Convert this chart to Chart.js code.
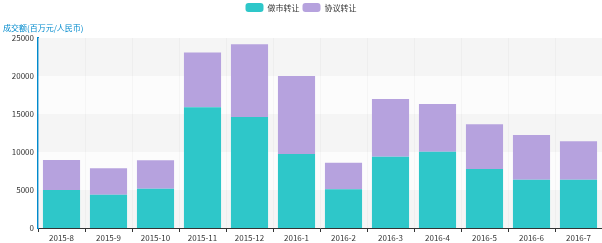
<!DOCTYPE html>
<html>
<head>
<meta charset="utf-8">
<script src="https://cdn.jsdelivr.net/npm/chart.js@4"></script>
<style>
  html, body { margin: 0; padding: 0; background: #fff; }
  #wrap { width: 602px; height: 243px; }
</style>
</head>
<body>
<div id="wrap"><canvas id="chart"></canvas></div>
<script>
// 数据
const months = ['2015-8', '2015-9', '2015-10', '2015-11', '2015-12', '2016-1', '2016-2', '2016-3', '2016-4', '2016-5', '2016-6', '2016-7'];
const marketMaking = [5000, 4380, 5170, 15900, 14600, 9740, 5090, 9380, 10040, 7760, 6360, 6360];
const agreement = [3950, 3470, 3730, 7200, 9570, 10260, 3510, 7590, 6260, 5880, 5880, 5040];
const seriesNames = ['做市转让', '协议转让'];
const yName = '成交额(百万元/人民币)';

const FONT = '"Noto Sans CJK SC", "Noto Sans", sans-serif';

// 背景分隔带 + 纵轴名称
const bandsPlugin = {
    id: 'bands',
    beforeInit(chart) {
        // 图例下方留出纵轴名称的空间
        const fit = chart.legend.fit;
        chart.legend.fit = function() {
            fit.call(this);
            this.height += 16;
        };
    },
    beforeDatasetsDraw(chart) {
        const { ctx, chartArea, scales } = chart;
        const ticks = scales.y.ticks;
        ctx.save();
        for (let i = 0; i < ticks.length - 1; i++) {
            const y0 = scales.y.getPixelForValue(ticks[i].value);
            const y1 = scales.y.getPixelForValue(ticks[i + 1].value);
            ctx.fillStyle = (i % 2 === 0) ? 'rgba(238,238,238,0.6)' : 'rgba(250,250,250,0.6)';
            ctx.fillRect(chartArea.left, y1, chartArea.right - chartArea.left, y0 - y1);
        }
        ctx.restore();
    },
    afterDraw(chart) {
        const { ctx, chartArea } = chart;
        ctx.save();
        ctx.font = '8px ' + FONT;
        ctx.fillStyle = '#008acd';
        ctx.textBaseline = 'bottom';
        ctx.fillText(yName, 3, chartArea.top - 6);
        ctx.restore();
    }
};

new Chart(document.getElementById('chart'), {
    type: 'bar',
    data: {
        labels: months,
        datasets: [{
            label: seriesNames[0],
            data: marketMaking,
            backgroundColor: '#2ec7c9',
            barPercentage: 0.79,
            categoryPercentage: 1
        }, {
            label: seriesNames[1],
            data: agreement,
            backgroundColor: '#b6a2de',
            barPercentage: 0.79,
            categoryPercentage: 1
        }]
    },
    options: {
        responsive: true,
        maintainAspectRatio: false,
        animation: false,
        layout: { padding: { left: 0, right: 0, top: 0, bottom: 0 } },
        plugins: {
            legend: {
                position: 'top',
                labels: {
                    boxWidth: 18,
                    boxHeight: 9,
                    useBorderRadius: true,
                    borderRadius: 3,
                    color: '#333',
                    font: { family: FONT, size: 8 },
                    padding: 3
                }
            },
            tooltip: { enabled: false }
        },
        scales: {
            x: {
                stacked: true,
                offset: true,
                afterFit(scale) { scale.height = 15; },
                grid: {
                    offset: true,
                    color: '#eeeeee',
                    tickColor: '#333',
                    tickLength: 4
                },
                border: { color: '#333', width: 1 },
                ticks: {
                    color: '#333',
                    font: { family: FONT, size: 8 },
                    maxRotation: 0,
                    autoSkip: false,
                    padding: 1
                }
            },
            y: {
                stacked: true,
                min: 0,
                max: 25000,
                afterFit(scale) { scale.width = 38; },
                grid: { display: false, drawTicks: false },
                border: { color: '#008acd', width: 2 },
                ticks: {
                    stepSize: 5000,
                    color: '#333',
                    font: { family: FONT, size: 8 },
                    padding: 4,
                    callback: v => String(v)
                }
            }
        }
    },
    plugins: [bandsPlugin]
});
</script>
</body>
</html>
